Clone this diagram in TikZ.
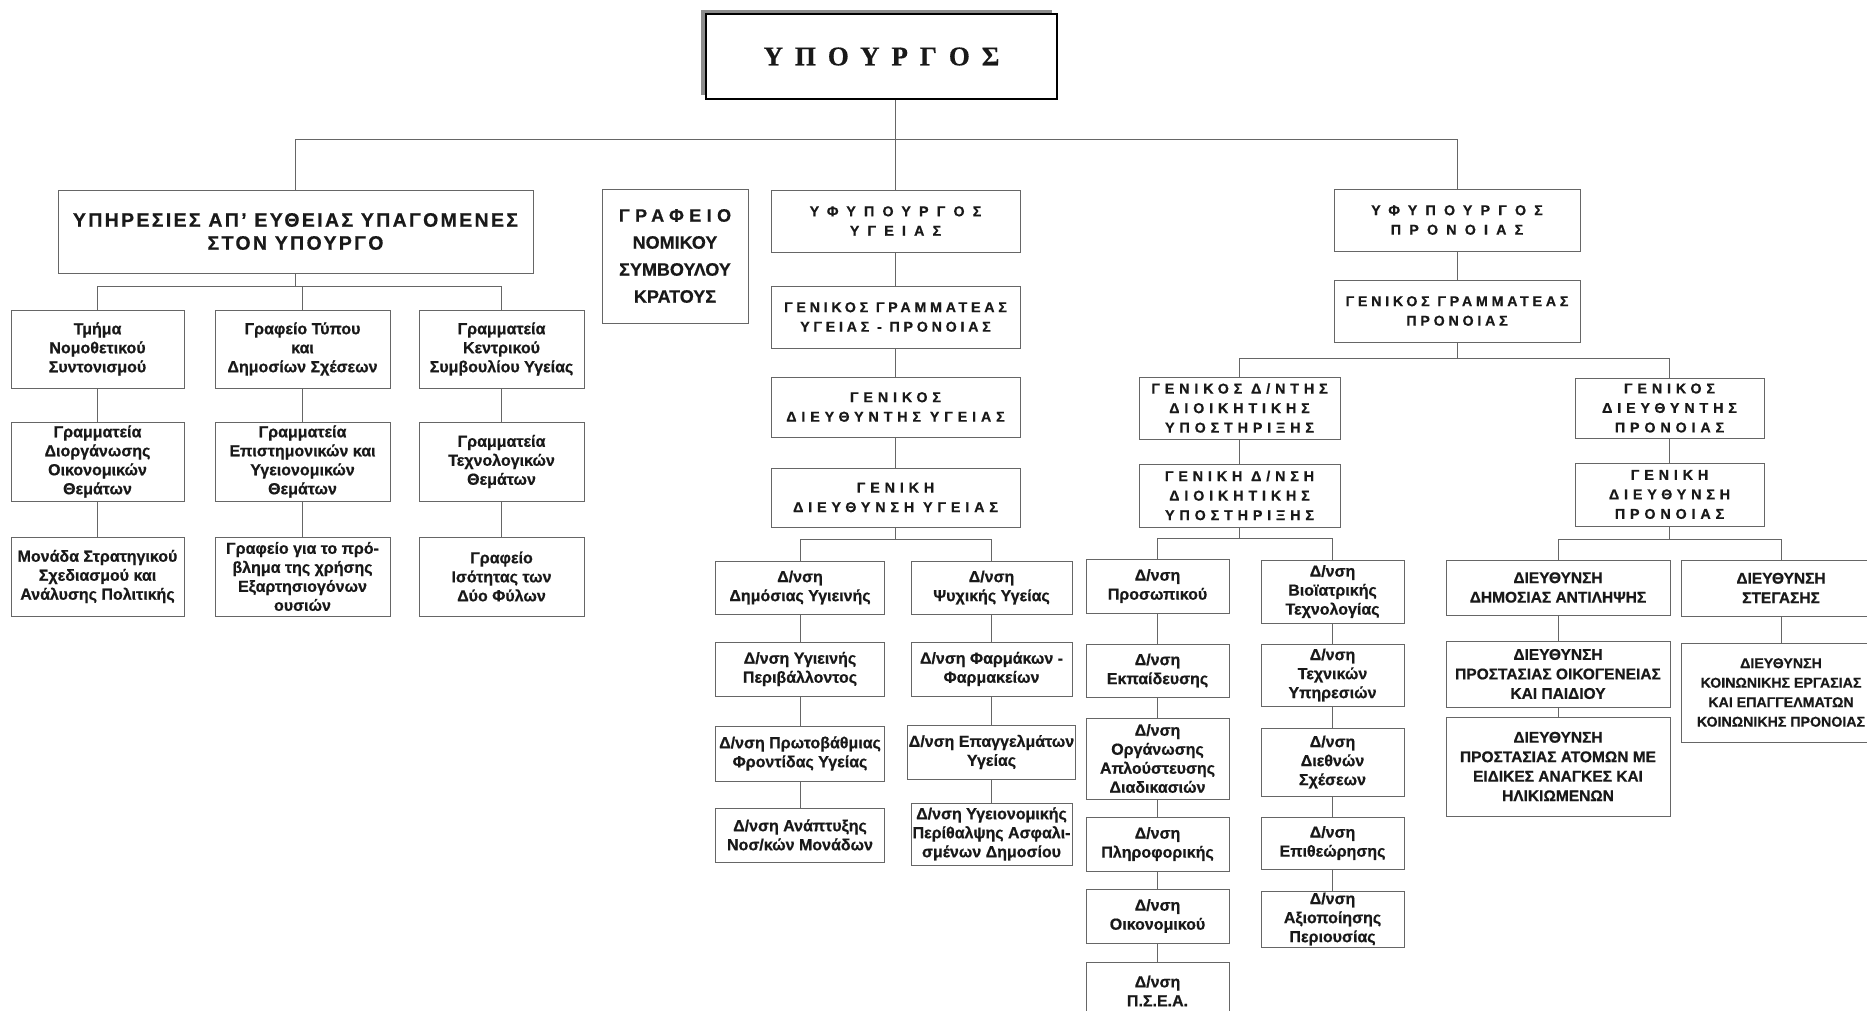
\documentclass[tikz,border=0pt]{standalone}
\usepackage{fontspec}
\setmainfont{Liberation Sans}[BoldFeatures={FakeBold=0.6}]
\newfontfamily\serifhead{Liberation Serif}[BoldFeatures={FakeBold=0.6}]
\usetikzlibrary{shadows}

\tikzset{
	unit/.style={draw=black!60, line width=0.9pt, fill=white, align=center, inner sep=1pt,
		text=black!90, font=\bfseries\fontsize{16}{19}\selectfont},
	head/.style={unit, font=\bfseries\fontsize{14.3}{19.5}\selectfont\addfontfeature{LetterSpace=#1}},
	head/.default=34,
	capsbox/.style={unit, font=\bfseries\fontsize{15.5}{19.5}\selectfont},
	minister/.style={draw=black, line width=1.6pt, fill=white, text=black!90,
		general shadow={fill=black!45, shadow xshift=-5pt, shadow yshift=4pt},
		font=\serifhead\bfseries\fontsize{27}{30}\selectfont\addfontfeature{LetterSpace=44}},
	link/.style={draw=black!60, line width=0.9pt},
}

\begin{document}
\begin{tikzpicture}[x=1pt, y=-1pt]
	\useasboundingbox[fill=white] (0,0) rectangle (1867,1011);

	% minister
	\node[minister, minimum width=351, minimum height=85] (min) at (881.5,56.5) {ΥΠΟΥΡΓΟΣ};

	% services under the minister
	\node[head=12, minimum width=475, minimum height=83, font=\bfseries\fontsize{19.5}{23}\selectfont\addfontfeature{LetterSpace=12}]
		(yp) at (295.5,231.5) {ΥΠΗΡΕΣΙΕΣ ΑΠ’ ΕΥΘΕΙΑΣ ΥΠΑΓΟΜΕΝΕΣ\\ΣΤΟΝ ΥΠΟΥΡΓΟ};
	\node[unit, minimum width=173, minimum height=78] (l11) at (97.5,349) {Τμήμα\\Νομοθετικού\\Συντονισμού};
	\node[unit, minimum width=175, minimum height=78] (l21) at (302.5,349) {Γραφείο Τύπου\\και\\Δημοσίων Σχέσεων};
	\node[unit, minimum width=165, minimum height=78] (l31) at (501.5,349) {Γραμματεία\\Κεντρικού\\Συμβουλίου Υγείας};
	\node[unit, minimum width=173, minimum height=79] (l12) at (97.5,461.5) {Γραμματεία\\Διοργάνωσης\\Οικονομικών\\Θεμάτων};
	\node[unit, minimum width=175, minimum height=79] (l22) at (302.5,461.5) {Γραμματεία\\Επιστημονικών και\\Υγειονομικών\\Θεμάτων};
	\node[unit, minimum width=165, minimum height=79] (l32) at (501.5,461.5) {Γραμματεία\\Τεχνολογικών\\Θεμάτων};
	\node[unit, minimum width=173, minimum height=79] (l13) at (97.5,576.5) {Μονάδα Στρατηγικού\\Σχεδιασμού και\\Ανάλυσης Πολιτικής};
	\node[unit, minimum width=175, minimum height=79] (l23) at (302.5,576.5) {Γραφείο για το πρό-\\βλημα της χρήσης\\Εξαρτησιογόνων\\ουσιών};
	\node[unit, minimum width=165, minimum height=79] (l33) at (501.5,576.5) {Γραφείο\\Ισότητας των\\Δύο Φύλων};

	% legal office
	\node[unit, minimum width=146, minimum height=134, font=\bfseries\fontsize{18}{27}\selectfont]
		(gn) at (675,256) {{\addfontfeature{LetterSpace=30}ΓΡΑΦΕΙΟ}\\ΝΟΜΙΚΟΥ\\ΣΥΜΒΟΥΛΟΥ\\ΚΡΑΤΟΥΣ};

	% health
	\node[head=57, minimum width=249, minimum height=62] (hv) at (895.5,221) {ΥΦΥΠΟΥΡΓΟΣ\\ΥΓΕΙΑΣ};
	\node[head=26, minimum width=249, minimum height=62] (hgg) at (895.5,317) {ΓΕΝΙΚΟΣ ΓΡΑΜΜΑΤΕΑΣ\\ΥΓΕΙΑΣ - ΠΡΟΝΟΙΑΣ};
	\node[head, minimum width=249, minimum height=60] (hgd) at (895.5,407) {ΓΕΝΙΚΟΣ\\ΔΙΕΥΘΥΝΤΗΣ ΥΓΕΙΑΣ};
	\node[head, minimum width=249, minimum height=59] (hgdn) at (895.5,497.5) {ΓΕΝΙΚΗ\\ΔΙΕΥΘΥΝΣΗ ΥΓΕΙΑΣ};
	\node[unit, minimum width=169, minimum height=53] (h1) at (800,587.5) {Δ/νση\\Δημόσιας Υγιεινής};
	\node[unit, minimum width=169, minimum height=54] (h2) at (800,669) {Δ/νση Υγιεινής\\Περιβάλλοντος};
	\node[unit, minimum width=169, minimum height=55] (h3) at (800,753.5) {Δ/νση Πρωτοβάθμιας\\Φροντίδας Υγείας};
	\node[unit, minimum width=169, minimum height=54] (h4) at (800,835) {Δ/νση Ανάπτυξης\\Νοσ/κών Μονάδων};
	\node[unit, minimum width=161, minimum height=53] (h5) at (991.5,587.5) {Δ/νση\\Ψυχικής Υγείας};
	\node[unit, minimum width=161, minimum height=54] (h6) at (991.5,669) {Δ/νση Φαρμάκων -\\Φαρμακείων};
	\node[unit, minimum width=161, minimum height=54] (h7) at (991.5,752) {Δ/νση Επαγγελμάτων\\Υγείας};
	\node[unit, minimum width=161, minimum height=62] (h8) at (991.5,834) {Δ/νση Υγειονομικής\\Περίθαλψης Ασφαλι-\\σμένων Δημοσίου};

	% welfare
	\node[head=57, minimum width=246, minimum height=62] (pv) at (1457,220) {ΥΦΥΠΟΥΡΓΟΣ\\ΠΡΟΝΟΙΑΣ};
	\node[head=26, minimum width=246, minimum height=62] (pgg) at (1457,311) {ΓΕΝΙΚΟΣ ΓΡΑΜΜΑΤΕΑΣ\\ΠΡΟΝΟΙΑΣ};
	\node[head, minimum width=201, minimum height=62] (ad) at (1239.5,408) {ΓΕΝΙΚΟΣ Δ/ΝΤΗΣ\\ΔΙΟΙΚΗΤΙΚΗΣ\\ΥΠΟΣΤΗΡΙΞΗΣ};
	\node[head, minimum width=201, minimum height=63] (adn) at (1239.5,495.5) {ΓΕΝΙΚΗ Δ/ΝΣΗ\\ΔΙΟΙΚΗΤΙΚΗΣ\\ΥΠΟΣΤΗΡΙΞΗΣ};
	\node[unit, minimum width=143, minimum height=54] (a1) at (1157.5,586) {Δ/νση\\Προσωπικού};
	\node[unit, minimum width=143, minimum height=53] (a2) at (1157.5,670.5) {Δ/νση\\Εκπαίδευσης};
	\node[unit, minimum width=143, minimum height=81] (a3) at (1157.5,758.5) {Δ/νση\\Οργάνωσης\\Απλούστευσης\\Διαδικασιών};
	\node[unit, minimum width=143, minimum height=54] (a4) at (1157.5,844) {Δ/νση\\Πληροφορικής};
	\node[unit, minimum width=143, minimum height=54] (a5) at (1157.5,916) {Δ/νση\\Οικονομικού};
	\node[unit, minimum width=143, minimum height=58] (a6) at (1157.5,991) {Δ/νση\\Π.Σ.Ε.Α.};
	\node[unit, minimum width=143, minimum height=63] (b1) at (1332.5,591.5) {Δ/νση\\Βιοϊατρικής\\Τεχνολογίας};
	\node[unit, minimum width=143, minimum height=62] (b2) at (1332.5,675) {Δ/νση\\Τεχνικών\\Υπηρεσιών};
	\node[unit, minimum width=143, minimum height=68] (b3) at (1332.5,762) {Δ/νση\\Διεθνών\\Σχέσεων};
	\node[unit, minimum width=143, minimum height=52] (b4) at (1332.5,843) {Δ/νση\\Επιθεώρησης};
	\node[unit, minimum width=143, minimum height=56] (b5) at (1332.5,919) {Δ/νση\\Αξιοποίησης\\Περιουσίας};
	\node[head, minimum width=189, minimum height=60] (gdp) at (1669.5,408) {ΓΕΝΙΚΟΣ\\ΔΙΕΥΘΥΝΤΗΣ\\ΠΡΟΝΟΙΑΣ};
	\node[head, minimum width=189, minimum height=63] (gdnp) at (1669.5,494.5) {ΓΕΝΙΚΗ\\ΔΙΕΥΘΥΝΣΗ\\ΠΡΟΝΟΙΑΣ};
	\node[capsbox, minimum width=224, minimum height=55] (p1) at (1558,587.5) {ΔΙΕΥΘΥΝΣΗ\\ΔΗΜΟΣΙΑΣ ΑΝΤΙΛΗΨΗΣ};
	\node[capsbox, minimum width=224, minimum height=66] (p2) at (1558,674) {ΔΙΕΥΘΥΝΣΗ\\ΠΡΟΣΤΑΣΙΑΣ ΟΙΚΟΓΕΝΕΙΑΣ\\ΚΑΙ ΠΑΙΔΙΟΥ};
	\node[capsbox, minimum width=224, minimum height=99] (p3) at (1558,766.5) {ΔΙΕΥΘΥΝΣΗ\\ΠΡΟΣΤΑΣΙΑΣ ΑΤΟΜΩΝ ΜΕ\\ΕΙΔΙΚΕΣ ΑΝΑΓΚΕΣ ΚΑΙ\\ΗΛΙΚΙΩΜΕΝΩΝ};
	\node[capsbox, minimum width=200, minimum height=56] (s1) at (1781,588) {ΔΙΕΥΘΥΝΣΗ\\ΣΤΕΓΑΣΗΣ};
	\node[capsbox, minimum width=200, minimum height=99, font=\bfseries\fontsize{14.2}{19.5}\selectfont] (s2) at (1781,692.5) {ΔΙΕΥΘΥΝΣΗ\\ΚΟΙΝΩΝΙΚΗΣ ΕΡΓΑΣΙΑΣ\\ΚΑΙ ΕΠΑΓΓΕΛΜΑΤΩΝ\\ΚΟΙΝΩΝΙΚΗΣ ΠΡΟΝΟΙΑΣ};

	% lines from the minister
	\draw[link] (min.south -| hv.north) -- (hv.north);
	\draw[link] (yp.north) -- ++(0,-50) -| (pv.north);

	% lines of the services
	\draw[link] (yp.south) -- ++(0,13) -| (l11.north);
	\draw[link] (yp.south) -- ++(0,13) -| (l21.north);
	\draw[link] (yp.south) -- ++(0,13) -| (l31.north);
	\draw[link] (l11) -- (l12) -- (l13);
	\draw[link] (l21) -- (l22) -- (l23);
	\draw[link] (l31) -- (l32) -- (l33);

	% lines of health
	\draw[link] (hv) -- (hgg) -- (hgd) -- (hgdn);
	\draw[link] (hgdn.south) -- ++(0,12) -| (h1.north);
	\draw[link] (hgdn.south) -- ++(0,12) -| (h5.north);
	\draw[link] (h1) -- (h2) -- (h3) -- (h4);
	\draw[link] (h5) -- (h6) -- (h7) -- (h8);

	% lines of welfare
	\draw[link] (pv) -- (pgg);
	\draw[link] (pgg.south) -- ++(0,16) -| (ad.north);
	\draw[link] (pgg.south) -- ++(0,16) -| (gdp.north);
	\draw[link] (ad) -- (adn);
	\draw[link] (adn.south) -- ++(0,11) -| (a1.north);
	\draw[link] (adn.south) -- ++(0,11) -| (b1.north);
	\draw[link] (a1) -- (a2) -- (a3) -- (a4) -- (a5) -- (a6);
	\draw[link] (b1) -- (b2) -- (b3) -- (b4) -- (b5);
	\draw[link] (gdp) -- (gdnp);
	\draw[link] (gdnp.south) -- ++(0,13) -| (p1.north);
	\draw[link] (gdnp.south) -- ++(0,13) -| (s1.north);
	\draw[link] (p1) -- (p2) -- (p3);
	\draw[link] (s1) -- (s2);
\end{tikzpicture}
\end{document}
